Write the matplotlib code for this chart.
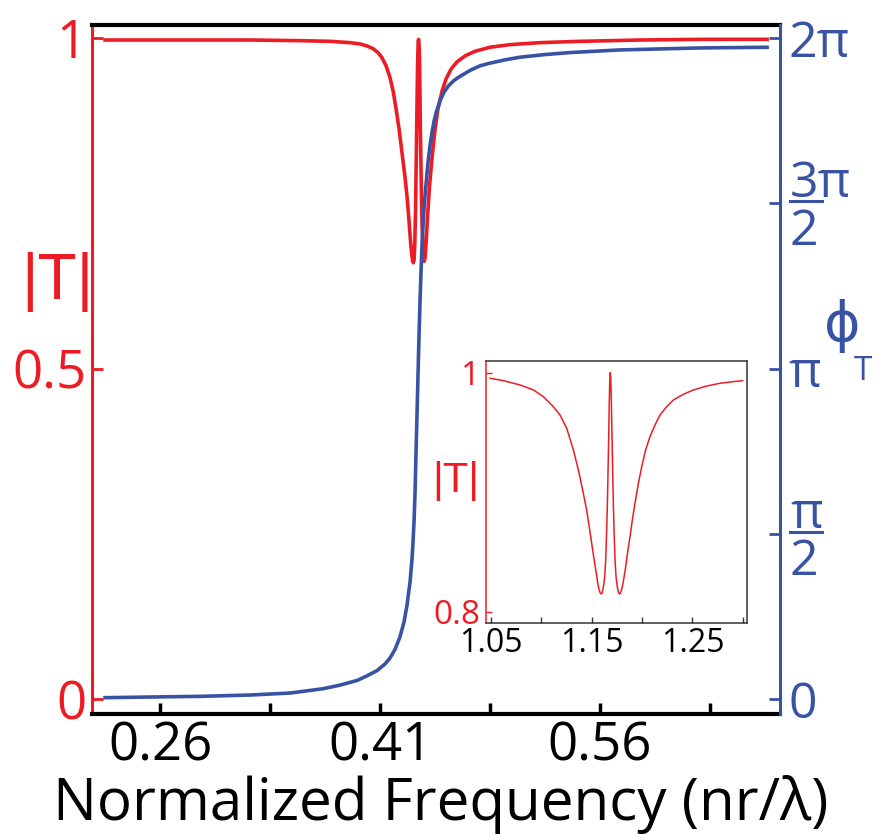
import numpy as np
import matplotlib
matplotlib.use("Agg")
import matplotlib.pyplot as plt
import matplotlib.transforms as mtransforms
from matplotlib.lines import Line2D

plt.rcParams['font.family'] = ['Open Sans', 'DejaVu Sans']

RED = '#ed1c24'
BLUE = '#3953a4'

# ---- main |T| curve (normalized frequency, |T|) ----
freq_T = [0.2225, 0.2532, 0.2873, 0.3214, 0.3555, 0.3759, 0.3895, 0.3964,
          0.4011, 0.4052, 0.4086, 0.4114, 0.4141, 0.4168, 0.4189, 0.4209,
          0.4230, 0.4250, 0.4270, 0.4284, 0.4298, 0.4308, 0.4315, 0.4322,
          0.4327, 0.4332, 0.4337, 0.4342, 0.4347, 0.4352, 0.4356, 0.4360,
          0.4363, 0.4367, 0.4371, 0.4375, 0.4381, 0.4386, 0.4392, 0.4397,
          0.4401, 0.4407, 0.4414, 0.4424, 0.4437, 0.4455, 0.4475, 0.4495,
          0.4523, 0.4550, 0.4584, 0.4625, 0.4680, 0.4748, 0.4850, 0.4986,
          0.5191, 0.5464, 0.5873, 0.6282, 0.6739]
T_abs = [0.997, 0.997, 0.997, 0.997, 0.996, 0.995, 0.993, 0.991,
         0.988, 0.984, 0.978, 0.970, 0.958, 0.940, 0.920, 0.893,
         0.862, 0.826, 0.790, 0.760, 0.722, 0.692, 0.675, 0.663,
         0.660, 0.664, 0.690, 0.740, 0.820, 0.900, 0.960, 0.995,
         0.998, 0.985, 0.940, 0.860, 0.780, 0.720, 0.685, 0.667,
         0.662, 0.668, 0.690, 0.730, 0.775, 0.820, 0.862, 0.893,
         0.920, 0.938, 0.953, 0.964, 0.973, 0.980, 0.986, 0.990,
         0.993, 0.995, 0.997, 0.998, 0.998]

# ---- main phase curve (normalized frequency, phase / pi) ----
freq_phi = [0.2225, 0.2532, 0.2873, 0.3214, 0.3486, 0.3711, 0.3827, 0.3943,
            0.4011, 0.4080, 0.4134, 0.4168, 0.4202, 0.4236, 0.4264, 0.4284,
            0.4305, 0.4318, 0.4325, 0.4332, 0.4339, 0.4345, 0.4352, 0.4359,
            0.4366, 0.4373, 0.4380, 0.4386, 0.4393, 0.4403, 0.4414, 0.4427,
            0.4441, 0.4455, 0.4468, 0.4482, 0.4509, 0.4536, 0.4564, 0.4605,
            0.4645, 0.4714, 0.4782, 0.4850, 0.4952, 0.5055, 0.5225, 0.5395,
            0.5736, 0.6282, 0.6739]
phi_over_pi = [0.004, 0.006, 0.008, 0.012, 0.018, 0.031, 0.042, 0.056,
               0.070, 0.086, 0.106, 0.124, 0.150, 0.188, 0.234, 0.284,
               0.356, 0.424, 0.476, 0.540, 0.630, 0.740, 0.860, 0.984,
               1.104, 1.210, 1.300, 1.372, 1.432, 1.504, 1.560, 1.624,
               1.676, 1.716, 1.748, 1.774, 1.810, 1.836, 1.854, 1.872,
               1.884, 1.902, 1.916, 1.924, 1.934, 1.942, 1.950, 1.956,
               1.964, 1.970, 1.972]

# ---- inset |T| curve ----
freq_in = [1.0490, 1.0623, 1.0788, 1.0921, 1.1020, 1.1119, 1.1185, 1.1252,
           1.1318, 1.1368, 1.1417, 1.1450, 1.1483, 1.1517, 1.1543, 1.1566,
           1.1583, 1.1593, 1.1603, 1.1616, 1.1629, 1.1639, 1.1649, 1.1656,
           1.1662, 1.1669, 1.1675, 1.1680, 1.1685, 1.1690, 1.1695, 1.1702,
           1.1709, 1.1715, 1.1722, 1.1732, 1.1742, 1.1755, 1.1768, 1.1778,
           1.1788, 1.1805, 1.1821, 1.1838, 1.1858, 1.1881, 1.1904, 1.1930,
           1.1964, 1.1997, 1.2036, 1.2079, 1.2129, 1.2179, 1.2245, 1.2311,
           1.2411, 1.2510, 1.2642, 1.2775, 1.2907, 1.3000]
T_in = [0.9953, 0.9933, 0.9897, 0.9855, 0.9799, 0.9715, 0.9646, 0.9534,
        0.9353, 0.9185, 0.8990, 0.8851, 0.8669, 0.8474, 0.8335, 0.8209,
        0.8159, 0.8148, 0.8156, 0.8204, 0.8293, 0.8432, 0.8683, 0.8907,
        0.9158, 0.9464, 0.9771, 0.9939, 1.0000, 0.9939, 0.9771, 0.9464,
        0.9158, 0.8907, 0.8683, 0.8432, 0.8293, 0.8204, 0.8156, 0.8148,
        0.8159, 0.8209, 0.8287, 0.8377, 0.8502, 0.8628, 0.8767, 0.8907,
        0.9074, 0.9213, 0.9353, 0.9464, 0.9562, 0.9646, 0.9715, 0.9771,
        0.9819, 0.9855, 0.9888, 0.9911, 0.9925, 0.9933]

x_ticks = [0.26, 0.335, 0.41, 0.485, 0.56, 0.635]
x_ticklabels = ['0.26', '', '0.41', '', '0.56', '']
yl_ticks = [0, 0.5, 1]
yl_ticklabels = ['0', '0.5', '1']
yr_ticks_over_pi = [0, 0.5, 1, 1.5, 2]
yr_ticklabels = ['0', '', 'π', '', '2π']
yr_fractions = [('π', '2', 0.5), ('3π', '2', 1.5)]
in_xticks = [1.05, 1.10, 1.15, 1.20, 1.25, 1.30]
in_xticklabels = ['1.05', '', '1.15', '', '1.25', '']
in_yticks = [0.8, 1.0]
in_yticklabels = ['0.8', '1']

NARROW = ['Liberation Sans Narrow', 'Liberation Sans', 'DejaVu Sans']

W, H = 878, 835
fig = plt.figure(figsize=(W / 100, H / 100), dpi=100)

ax_l, ax_r, ax_b, ax_t = 92, 780, 714, 25
ax = fig.add_axes([ax_l / W, 1 - ax_b / H, (ax_r - ax_l) / W, (ax_b - ax_t) / H])
ax.plot(freq_T, T_abs, color=RED, lw=2.6, zorder=3)
ax.set_xlim(0.2136, 0.6827)
ax.set_ylim(-0.0227, 1.0197)

ax.spines['top'].set_color('black')
ax.spines['top'].set_linewidth(3.0)
ax.spines['bottom'].set_color('black')
ax.spines['bottom'].set_linewidth(3.0)
ax.spines['left'].set_color(RED)
ax.spines['left'].set_linewidth(2.2)
ax.spines['right'].set_visible(False)

ax.set_xticks(x_ticks)
ax.set_xticklabels(x_ticklabels)
ax.tick_params(axis='x', direction='in', length=8, width=2.5, color='black',
               labelsize=38, pad=4, top=False)
ax.set_yticks(yl_ticks)
ax.set_yticklabels(yl_ticklabels)
ax.tick_params(axis='y', direction='in', length=8, width=2, color=RED,
               labelcolor=RED, labelsize=38, pad=4)

ax.set_xlabel('Normalized Frequency (nr/λ)', fontsize=42, va='top')
ax.xaxis.set_label_coords(0.507, -0.088)
ax.set_ylabel('|T|', fontsize=46, color=RED, rotation=0, ha='center', va='center',
              family=NARROW)
ax.yaxis.set_label_coords((57 - ax_l) / (ax_r - ax_l), (ax_b - 282) / (ax_b - ax_t))

ax2 = ax.twinx()
ax2.plot(freq_phi, np.array(phi_over_pi) * np.pi, color=BLUE, lw=2.6, zorder=2)
ax2.set_ylim(-0.0227 * 2 * np.pi, 1.0197 * 2 * np.pi)
for s in ['top', 'bottom', 'left']:
    ax2.spines[s].set_visible(False)
ax2.spines['right'].set_color(BLUE)
ax2.spines['right'].set_linewidth(2.2)
ax2.set_yticks(np.array(yr_ticks_over_pi) * np.pi)
ax2.set_yticklabels(yr_ticklabels)
ax2.tick_params(axis='y', direction='in', length=8, width=2, color=BLUE,
                labelcolor=BLUE, labelsize=36, pad=6)

# stacked fraction labels on right axis
axw = ax_r - ax_l
blend = mtransforms.blended_transform_factory(ax2.transAxes, ax2.transData)
for num, den, val in yr_fractions:
    yv = val * np.pi
    t_num = mtransforms.offset_copy(blend, fig=fig, x=10, y=6, units='dots')
    ax2.text(1, yv, num, transform=t_num, fontsize=36, color=BLUE,
             ha='left', va='baseline', clip_on=False)
    t_den = mtransforms.offset_copy(blend, fig=fig, x=10, y=-4, units='dots')
    ax2.text(1, yv, den, transform=t_den, fontsize=36, color=BLUE,
             ha='left', va='top', clip_on=False)
    t_bar = mtransforms.offset_copy(blend, fig=fig, x=0, y=2, units='dots')
    ax2.add_line(Line2D([1 + 10 / axw, 1 + 42 / axw], [yv, yv], transform=t_bar,
                        color=BLUE, lw=2.2, clip_on=False))

# phi_T axis label
ax2.text((842 - ax_l) / axw, (ax_b - 326) / (ax_b - ax_t), 'ϕ',
         transform=ax2.transAxes, fontsize=40, color=BLUE, ha='center', va='center',
         family=['DejaVu Sans'])
ax2.text((863 - ax_l) / axw, (ax_b - 372) / (ax_b - ax_t), 'T',
         transform=ax2.transAxes, fontsize=24, color=BLUE, ha='center', va='center')

# ---- inset ----
il, ir, ib, it = 486, 746.7, 623, 360.7
axi = fig.add_axes([il / W, 1 - ib / H, (ir - il) / W, (ib - it) / H])
axi.set_facecolor('white')
axi.plot(freq_in, T_in, color=RED, lw=1.1)
axi.set_xlim(1.045, 1.304)
axi.set_ylim(0.7905, 1.010)
for s in ['top', 'right', 'bottom']:
    axi.spines[s].set_color('#333333')
    axi.spines[s].set_linewidth(1.1)
axi.spines['left'].set_color(RED)
axi.spines['left'].set_linewidth(1.1)
axi.set_xticks(in_xticks)
axi.set_xticklabels(in_xticklabels)
axi.tick_params(axis='x', direction='in', length=4, width=1, color='#333333',
                labelsize=23, pad=3)
axi.set_yticks(in_yticks)
axi.set_yticklabels(in_yticklabels)
axi.tick_params(axis='y', direction='in', length=4, width=1, color=RED,
                labelcolor=RED, labelsize=24, pad=4)
axi.set_ylabel('|T|', fontsize=30, color=RED, rotation=0, ha='center', va='center',
               family=NARROW)
axi.yaxis.set_label_coords((456 - il) / (ir - il), (ib - 481) / (ib - it))

fig.savefig('out.png', dpi=100)
